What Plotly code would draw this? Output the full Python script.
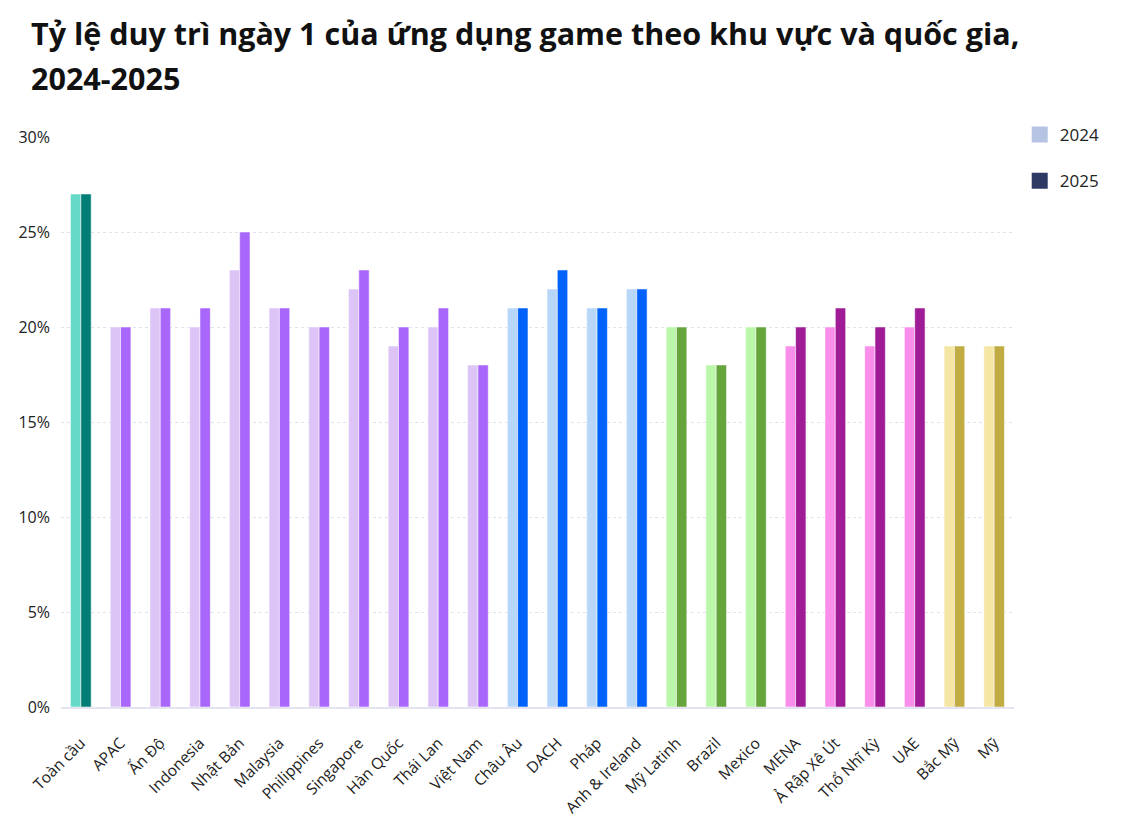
import plotly.graph_objects as go

categories = ["Toàn cầu", "APAC", "Ấn Độ", "Indonesia", "Nhật Bản", "Malaysia", "Philippines",
              "Singapore", "Hàn Quốc", "Thái Lan", "Việt Nam", "Châu Âu", "DACH", "Pháp",
              "Anh & Ireland", "Mỹ Latinh", "Brazil", "Mexico", "MENA", "Ả Rập Xê Út",
              "Thổ Nhĩ Kỳ", "UAE", "Bắc Mỹ", "Mỹ"]
values_2024 = [27, 20, 21, 20, 23, 21, 20, 22, 19, 20, 18, 21, 22, 21, 22, 20, 18, 20, 19, 20, 19, 20, 19, 19]
values_2025 = [27, 20, 21, 21, 25, 21, 20, 23, 20, 21, 18, 21, 23, 21, 22, 20, 18, 20, 20, 21, 20, 21, 19, 19]
regions = ["global"] + ["apac"] * 10 + ["eu"] * 4 + ["latam"] * 3 + ["mena"] * 4 + ["na"] * 2
title_lines = ["Tỷ lệ duy trì ngày 1 của ứng dụng game theo khu vực và quốc gia,", "2024-2025"]

colors_2024 = {"global": "#66D9C9", "apac": "#DDC4F7", "eu": "#B7D6F8", "latam": "#BAF7AA",
               "mena": "#F98EEB", "na": "#F5E6A4"}
colors_2025 = {"global": "#037E77", "apac": "#A966FA", "eu": "#0062FA", "latam": "#66A53C",
               "mena": "#A01C97", "na": "#C0AC43"}
legend_colors = {"2024": "#B7C3E3", "2025": "#2E3A63"}

FONT = "Open Sans"
TITLE_FONT = "Open Sans"

fig = go.Figure()
fig.add_trace(go.Bar(x=categories, y=values_2024, name="2024", showlegend=False,
                     marker=dict(color=[colors_2024[r] for r in regions],
                                 line=dict(color="rgba(255,255,255,0.5)", width=1))))
fig.add_trace(go.Bar(x=categories, y=values_2025, name="2025", showlegend=False,
                     marker=dict(color=[colors_2025[r] for r in regions],
                                 line=dict(color="rgba(255,255,255,0.5)", width=1))))
for i, (name, col) in enumerate(legend_colors.items()):
    fig.add_trace(go.Scatter(x=[None], y=[None], mode="markers", name=name,
                             legendgroup=name,
                             marker=dict(symbol="square", size=17, color=col)))

for i, line in enumerate(title_lines):
    fig.add_annotation(
        text=f"<b>{line}</b>",
        xref="paper", yref="paper", x=(29 - 61) / 953, y=(707 - 10 - 45 * i) / 570,
        xanchor="left", yanchor="top", align="left", showarrow=False,
        font=dict(family=TITLE_FONT, size=30.5, color="#111111"))

fig.update_layout(
    width=1137, height=833,
    margin=dict(l=61, r=123, t=137, b=126, autoexpand=False),
    paper_bgcolor="white", plot_bgcolor="white",
    barmode="group", bargap=0.48, bargroupgap=0,
    font=dict(family=FONT, color="#222222"),
    legend=dict(x=1.006, xanchor="left", y=1.035, yanchor="top",
                font=dict(family=FONT, size=17, color="#222222"),
                tracegroupgap=21, itemwidth=30, bgcolor="rgba(0,0,0,0)"),
    xaxis=dict(tickangle=-45, tickfont=dict(family=FONT, size=15.5, color="#222222"),
               showgrid=False, showline=True, linecolor="#E4E4F0", linewidth=2,
               ticks="", range=[-0.5, 23.5], ticklabelstandoff=19, automargin=False),
    yaxis=dict(range=[0, 30], dtick=5, ticksuffix="%",
               tickfont=dict(family=FONT, size=16, color="#222222"),
               showgrid=True, gridcolor="#E2E2EE", griddash="dot", gridwidth=1,
               zeroline=False, showline=False, ticks="", ticklabelstandoff=10,
               automargin=False),
)

fig.write_html("out.html")
